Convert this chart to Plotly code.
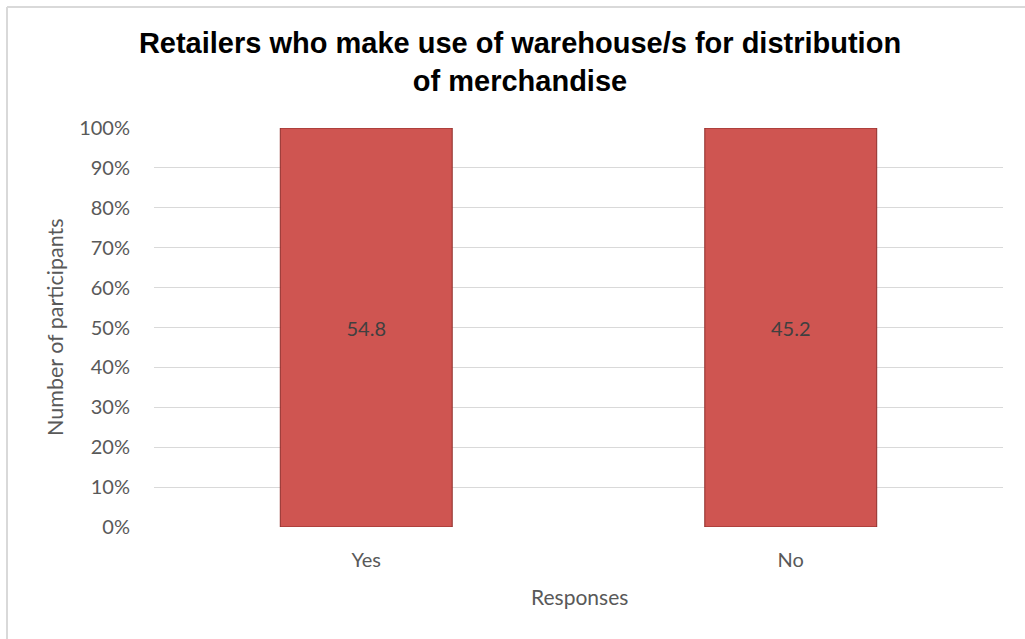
import plotly.graph_objects as go

categories = ["Yes", "No"]
values = [54.8, 45.2]
tick_vals = [0, 10, 20, 30, 40, 50, 60, 70, 80, 90, 100]
tick_text = ["0%", "10%", "20%", "30%", "40%", "50%", "60%", "70%", "80%", "90%", "100%"]

W, H = 1025, 639
L, R, T, B = 154, 22, 128, 112
pw, ph = W - L - R, H - T - B

def px_x(x):
    return (x - L) / pw

def px_y(y):
    return (H - B - y) / ph

FONT = "Lato, Open Sans, sans-serif"

fig = go.Figure()
fig.add_trace(go.Bar(
    x=categories,
    y=values,
    text=[f"{v}" for v in values],
    texttemplate="%{text}",
    textposition="inside",
    insidetextanchor="middle",
    textangle=0,
    textfont=dict(family=FONT, size=20, color="#404040"),
    marker=dict(color="#CF5551", line=dict(color="#8E2C29", width=1)),
    width=0.405,
    hoverinfo="skip",
))

fig.update_layout(
    width=W, height=H,
    margin=dict(l=L, r=R, t=T, b=B),
    paper_bgcolor="white",
    plot_bgcolor="white",
    barmode="stack",
    barnorm="percent",
    showlegend=False,
    title=dict(
        text="Retailers who make use of warehouse/s for distribution<br>of merchandise",
        font=dict(family="Liberation Sans, Arial, sans-serif", size=29, color="#000000", weight="bold"),
        x=520 / W, xanchor="center",
        y=1 - 53 / H, yanchor="middle",
    ),
    xaxis=dict(
        showgrid=False, zeroline=False, showline=False,
        tickfont=dict(family=FONT, size=20, color="#595959"),
        ticks="", ticklabelstandoff=19,
    ),
    yaxis=dict(
        range=[0, 100],
        tickvals=tick_vals, ticktext=tick_text,
        showgrid=True, gridcolor="#D9D9D9", gridwidth=1,
        zeroline=False, showline=False,
        tickfont=dict(family=FONT, size=20, color="#595959"),
        ticks="", ticklabelstandoff=23,
    ),
    annotations=[
        dict(text="Number of participants", x=px_x(55), y=px_y(327), xref="paper", yref="paper",
             showarrow=False, textangle=-90,
             font=dict(family=FONT, size=21.5, color="#595959"),
             xanchor="center", yanchor="middle"),
        dict(text="Responses", x=px_x(579), y=px_y(596), xref="paper", yref="paper",
             showarrow=False,
             font=dict(family=FONT, size=21, color="#595959"),
             xanchor="center", yanchor="middle"),
    ],
    shapes=[
        dict(type="line", xref="paper", yref="paper", x0=px_x(7), x1=px_x(7), y0=px_y(7), y1=px_y(H + 5),
             line=dict(color="#D9D9D9", width=2)),
        dict(type="line", xref="paper", yref="paper", x0=px_x(7), x1=px_x(W + 5), y0=px_y(7), y1=px_y(7),
             line=dict(color="#D9D9D9", width=2)),
    ],
)

fig.write_html("out.html", config={"displayModeBar": False},
               post_script="document.body.style.margin='0px';")
